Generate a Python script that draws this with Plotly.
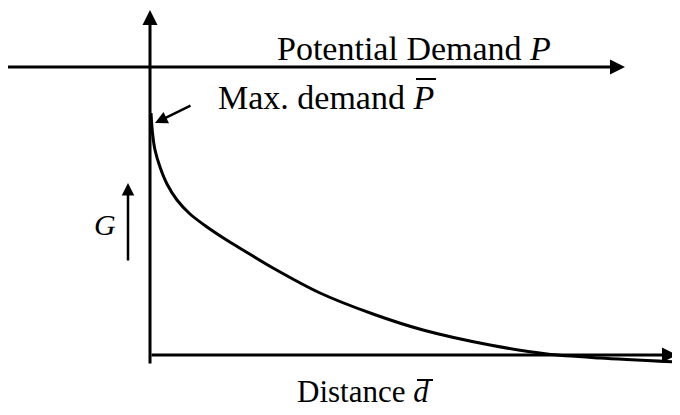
import plotly.graph_objects as go

# Curve: relative attractiveness G versus distance
distance = [1, 2.5, 5, 10, 17, 27, 40, 57, 75, 93, 123, 170, 223, 273, 340, 397, 450, 527]
g_value = [242, 222, 205, 188, 171, 155, 141, 128, 116, 105, 87, 62, 41, 25, 10, 1, -3, -7]

title_top = "Potential Demand <i>P</i>"
label_max = "Max. demand <i>P</i>"
label_g = "<i>G</i>"
label_x = "Distance <i>d</i>"

FONT = "Liberation Serif, Times New Roman, serif"

fig = go.Figure()
fig.add_trace(go.Scatter(x=distance, y=g_value, mode="lines",
                         line=dict(color="black", width=3, shape="spline", smoothing=0.8),
                         hoverinfo="skip", showlegend=False))

def arrow(x0, y0, x1, y1, w=2.5, size=1.0):
    fig.add_annotation(x=x1, y=y1, ax=x0, ay=y0, xref="x", yref="y", axref="x", ayref="y",
                       showarrow=True, arrowhead=2, arrowsize=size, arrowwidth=w,
                       arrowcolor="black", text="")

# axes with arrows
arrow(0, -10, 0, 345, w=3)
arrow(0, 0, 527, 0, w=3)
arrow(-145, 288, 475, 288, w=3)
# max demand pointer
arrow(42, 250, 5, 232, w=2.5)
# G up arrow
arrow(-22, 93, -22, 172, w=2.5)

def text(t, x, y, size, anchor="left"):
    fig.add_annotation(x=x, y=y, xref="x", yref="y", text=t, showarrow=False,
                       xanchor=anchor, yanchor="middle",
                       font=dict(family=FONT, size=size, color="black"))

text(title_top, 125, 307, 34)
text(label_max, 66, 258, 34)
text(label_g, -45, 131, 30, anchor="center")
text(label_x, 145, -36, 31)

# overbars on P and d
fig.add_shape(type="line", x0=266, x1=286, y0=276, y1=276, xref="x", yref="y",
              line=dict(color="black", width=2))
fig.add_shape(type="line", x0=267, x1=283, y0=-25, y1=-25, xref="x", yref="y",
              line=dict(color="black", width=2))

fig.update_layout(width=672, height=407, margin=dict(l=0, r=0, t=0, b=0),
                  paper_bgcolor="white", plot_bgcolor="white",
                  xaxis=dict(range=[-142, 530], visible=False, fixedrange=True),
                  yaxis=dict(range=[-60, 347], visible=False, fixedrange=True),
                  showlegend=False)

fig.write_html("out.html")
